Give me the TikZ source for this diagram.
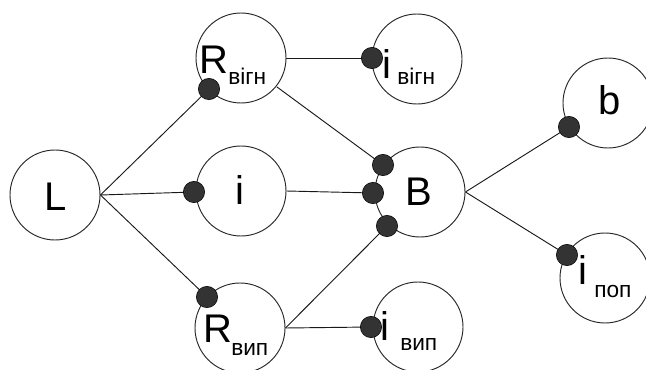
\documentclass[tikz,border=0pt]{standalone}
\usepackage{fontspec}
\setmainfont{Liberation Sans}
\begin{document}
\begin{tikzpicture}[x=0.75pt,y=-0.75pt,
  state/.style={circle,draw=black!85,line width=0.7pt,minimum size=67.5pt,inner sep=0pt},
  pin/.style={circle,fill=black!80,draw=black,line width=0.4pt,minimum size=16pt,inner sep=0pt},
  big/.style={inner sep=0pt,font=\fontsize{30}{30}\selectfont},
  small/.style={inner sep=0pt,font=\fontsize{17}{17}\selectfont},
  link/.style={draw=black!90,line width=0.7pt}]
\useasboundingbox (0,0) rectangle (646,370);
% circles
\node[state] (L)  at (55,195) {};
\node[state] (Rv) at (241,58) {};
\node[state] (iv) at (417,59) {};
\node[state] (i)  at (241,191) {};
\node[state] (Rp) at (240,328) {};
\node[state] (ip) at (418,327) {};
\node[state] (B)  at (420,192) {};
\node[state] (b)  at (608,103) {};
\node[state] (ipop) at (605,278) {};
% labels
\node[big] (tL) at (56,197) {L};
\node[big] (ti) at (240,190) {i};
\node[big] (tB) at (419,192) {B};
\node[big] (tb) at (610,100) {b};
\node[big,anchor=base west] (tRv) at (199,74) {R};
\node[small,anchor=base west] (sRv) at (228,85) {вігн};
\node[big,anchor=base west] (tiv) at (382,79) {i};
\node[small,anchor=base west] (siv) at (397,85) {вігн};
\node[big,anchor=base west] (tRp) at (203,342) {R};
\node[small,anchor=base west] (sRp) at (231,355) {вип};
\node[big,anchor=base west] (tip) at (380,340) {i};
\node[small,anchor=base west] (sip) at (400,350) {вип};
\node[big,anchor=base west] (tipop) at (578,285) {i};
\node[small,anchor=base west] (sipop) at (594,297) {поп};
% connectors
\draw[link] (L.east) -- (209,89) coordinate (c1);
\draw[link] (L.east) -- (194,192) coordinate (c2);
\draw[link] (L.east) -- (207,297) coordinate (c3);
\draw[link] (Rv.east) -- (372,58) coordinate (c4);
\draw[link] (Rv) ++(36,29) coordinate (c5) -- (383,165) coordinate (c6);
\draw[link] (i.east) -- (373,193) coordinate (c7);
\draw[link] (Rp.east) -- (387,226) coordinate (c8);
\draw[link] (Rp.east) -- (371,327) coordinate (c9);
\draw[link] (B.east) -- (569,127) coordinate (c10);
\draw[link] (B.east) -- (567,255) coordinate (c11);
% contact dots
\foreach \c in {c1,c2,c3,c4,c6,c7,c8,c9,c10,c11}
  \node[pin] at (\c) {};
\end{tikzpicture}
\end{document}
